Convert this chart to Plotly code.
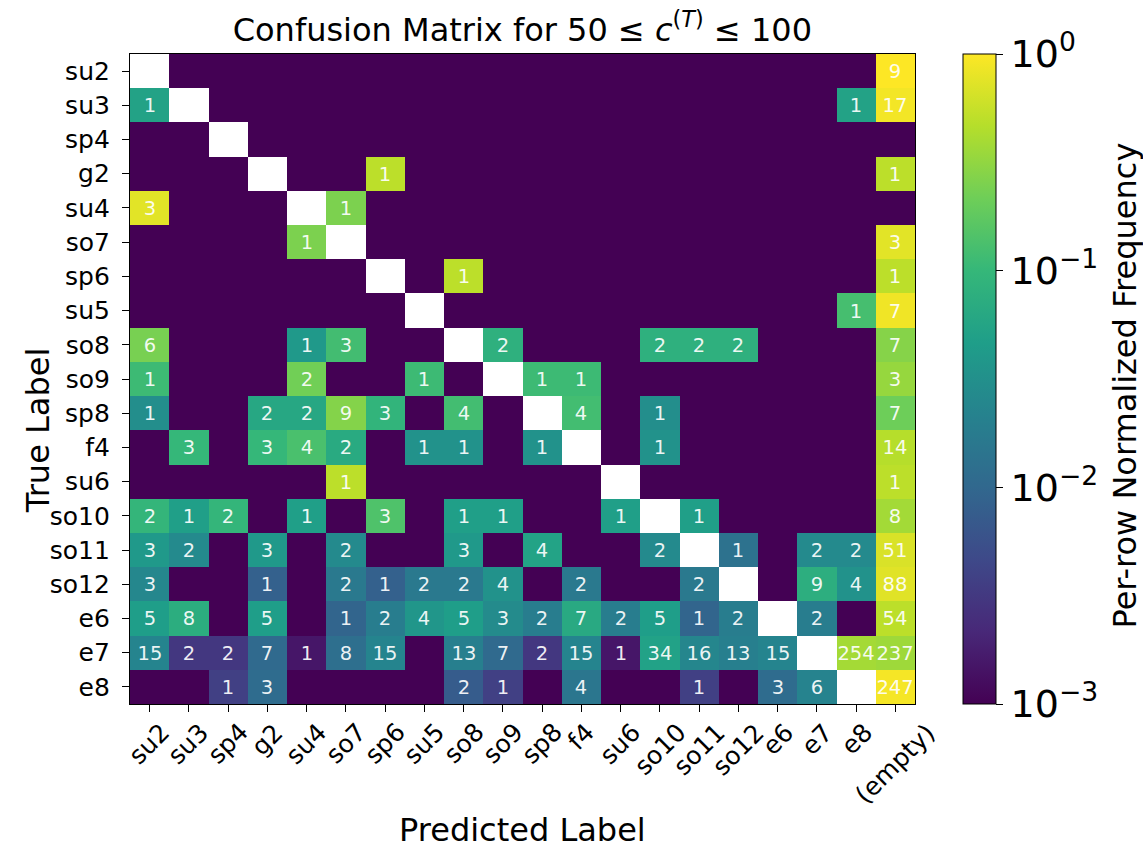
import math
import plotly.graph_objects as go

# Class labels
true_labels = ["su2", "su3", "sp4", "g2", "su4", "so7", "sp6", "su5", "so8", "so9",
               "sp8", "f4", "su6", "so10", "so11", "so12", "e6", "e7", "e8"]
pred_labels = true_labels + ["(empty)"]

# Off-diagonal prediction counts, one list per true label (columns follow pred_labels)
row_su2 = [0, 0, 0, 0, 0, 0, 0, 0, 0, 0, 0, 0, 0, 0, 0, 0, 0, 0, 0, 9]
row_su3 = [1, 0, 0, 0, 0, 0, 0, 0, 0, 0, 0, 0, 0, 0, 0, 0, 0, 0, 1, 17]
row_sp4 = [0, 0, 0, 0, 0, 0, 0, 0, 0, 0, 0, 0, 0, 0, 0, 0, 0, 0, 0, 0]
row_g2 = [0, 0, 0, 0, 0, 0, 1, 0, 0, 0, 0, 0, 0, 0, 0, 0, 0, 0, 0, 1]
row_su4 = [3, 0, 0, 0, 0, 1, 0, 0, 0, 0, 0, 0, 0, 0, 0, 0, 0, 0, 0, 0]
row_so7 = [0, 0, 0, 0, 1, 0, 0, 0, 0, 0, 0, 0, 0, 0, 0, 0, 0, 0, 0, 3]
row_sp6 = [0, 0, 0, 0, 0, 0, 0, 0, 1, 0, 0, 0, 0, 0, 0, 0, 0, 0, 0, 1]
row_su5 = [0, 0, 0, 0, 0, 0, 0, 0, 0, 0, 0, 0, 0, 0, 0, 0, 0, 0, 1, 7]
row_so8 = [6, 0, 0, 0, 1, 3, 0, 0, 0, 2, 0, 0, 0, 2, 2, 2, 0, 0, 0, 7]
row_so9 = [1, 0, 0, 0, 2, 0, 0, 1, 0, 0, 1, 1, 0, 0, 0, 0, 0, 0, 0, 3]
row_sp8 = [1, 0, 0, 2, 2, 9, 3, 0, 4, 0, 0, 4, 0, 1, 0, 0, 0, 0, 0, 7]
row_f4 = [0, 3, 0, 3, 4, 2, 0, 1, 1, 0, 1, 0, 0, 1, 0, 0, 0, 0, 0, 14]
row_su6 = [0, 0, 0, 0, 0, 1, 0, 0, 0, 0, 0, 0, 0, 0, 0, 0, 0, 0, 0, 1]
row_so10 = [2, 1, 2, 0, 1, 0, 3, 0, 1, 1, 0, 0, 1, 0, 1, 0, 0, 0, 0, 8]
row_so11 = [3, 2, 0, 3, 0, 2, 0, 0, 3, 0, 4, 0, 0, 2, 0, 1, 0, 2, 2, 51]
row_so12 = [3, 0, 0, 1, 0, 2, 1, 2, 2, 4, 0, 2, 0, 0, 2, 0, 0, 9, 4, 88]
row_e6 = [5, 8, 0, 5, 0, 1, 2, 4, 5, 3, 2, 7, 2, 5, 1, 2, 0, 2, 0, 54]
row_e7 = [15, 2, 2, 7, 1, 8, 15, 0, 13, 7, 2, 15, 1, 34, 16, 13, 15, 0, 254, 237]
row_e8 = [0, 0, 1, 3, 0, 0, 0, 0, 2, 1, 0, 4, 0, 0, 1, 0, 3, 6, 0, 247]

counts = [row_su2, row_su3, row_sp4, row_g2, row_su4, row_so7, row_sp6, row_su5,
          row_so8, row_so9, row_sp8, row_f4, row_su6, row_so10, row_so11, row_so12,
          row_e6, row_e7, row_e8]

VMIN_EXP = -3  # colour floor at 1e-3

# Per-row normalisation (off-diagonal only), on a log10 colour scale
z = []
txt = []
for i, row in enumerate(counts):
    total = sum(row)
    zr, tr = [], []
    for j, c in enumerate(row):
        if i == j:
            zr.append(None)
            tr.append("")
            continue
        frac = c / total if total > 0 else 0.0
        zr.append(math.log10(frac) if frac > 10 ** VMIN_EXP else VMIN_EXP)
        tr.append(str(c) if c > 0 else "")
    z.append(zr)
    txt.append(tr)

FONT = "DejaVu Sans"

major_vals = [-3, -2, -1, 0]
major_text = ["10<sup>−3</sup>", "10<sup>−2</sup>", "10<sup>−1</sup>", "10<sup>0</sup>"]
minor_vals = [e + math.log10(k) for e in (-3, -2, -1) for k in range(2, 10)]

cb_common = dict(
    x=1.0611, xanchor="left", xref="paper", xpad=0,
    y=0.5, yanchor="middle", len=1.0, lenmode="fraction", ypad=0,
    thickness=33, thicknessmode="pixels",
    outlinewidth=1, outlinecolor="black",
    ticks="outside", tickcolor="black", tickwidth=1.2,
    tickmode="array",
)

fig = go.Figure()

fig.add_trace(go.Heatmap(
    z=z, x=pred_labels, y=true_labels,
    text=txt, texttemplate="%{text}",
    textfont=dict(family=FONT, size=19.5, color="rgba(255,255,255,0.92)"),
    colorscale="Viridis", zmin=-3, zmax=0,
    xgap=0, ygap=0, hoverongaps=False,
    colorbar=dict(
        **cb_common,
        tickvals=major_vals, ticktext=major_text, ticklen=7,
        tickfont=dict(family=FONT, size=38, color="black"),
    ),
))

# Minor ticks of the log colour bar
fig.add_trace(go.Heatmap(
    z=[[None] * len(pred_labels) for _ in true_labels],
    x=pred_labels, y=true_labels,
    colorscale="Viridis", zmin=-3, zmax=0, hoverinfo="skip",
    colorbar=dict(
        **cb_common,
        tickvals=minor_vals, ticklen=4, showticklabels=False,
    ),
))

# Rotated x tick labels, centred under their ticks
annotations = []
for lab in pred_labels:
    annotations.append(dict(
        x=lab, xref="x", y=0, yref="paper",
        yanchor="top", xanchor="center", yshift=-11,
        text=lab, textangle=-45, showarrow=False,
        font=dict(family=FONT, size=25, color="black"),
    ))

annotations += [
    dict(text="Predicted Label", x=0.5, y=-0.194, xref="paper", yref="paper",
         xanchor="center", yanchor="middle", showarrow=False,
         font=dict(family=FONT, size=32, color="black")),
    dict(text="True Label", x=-0.117, y=0.42, xref="paper", yref="paper",
         xanchor="center", yanchor="middle", textangle=-90, showarrow=False,
         font=dict(family=FONT, size=32, color="black")),
    dict(text="Per-row Normalized Frequency", x=1.2675, y=0.49, xref="paper", yref="paper",
         xanchor="center", yanchor="middle", textangle=-90, showarrow=False,
         font=dict(family=FONT, size=32, color="black")),
]

fig.update_layout(
    width=1143, height=848,
    margin=dict(l=130, r=228, t=54, b=144),
    paper_bgcolor="white", plot_bgcolor="white",
    font=dict(family=FONT, color="black"),
    title=dict(
        text="Confusion Matrix for 50 ≤ <i>c</i><sup>(<i>T</i>)</sup> ≤ 100",
        x=0.457, xanchor="center", y=0.965, yanchor="middle",
        font=dict(family=FONT, size=32, color="black"),
    ),
    annotations=annotations,
    showlegend=False,
)

fig.update_xaxes(
    type="category", range=[-0.5, len(pred_labels) - 0.5],
    showticklabels=False, ticks="outside", ticklen=7, tickwidth=1.2, tickcolor="black",
    showline=True, linecolor="black", linewidth=1.2, mirror=True,
    showgrid=False, zeroline=False,
)
fig.update_yaxes(
    type="category", range=[len(true_labels) - 0.5, -0.5],
    ticks="outside", ticklen=7, tickwidth=1.2, tickcolor="black",
    ticklabelstandoff=7,
    tickfont=dict(family=FONT, size=25, color="black"),
    showline=True, linecolor="black", linewidth=1.2, mirror=True,
    showgrid=False, zeroline=False,
)

fig.write_html("out.html")
